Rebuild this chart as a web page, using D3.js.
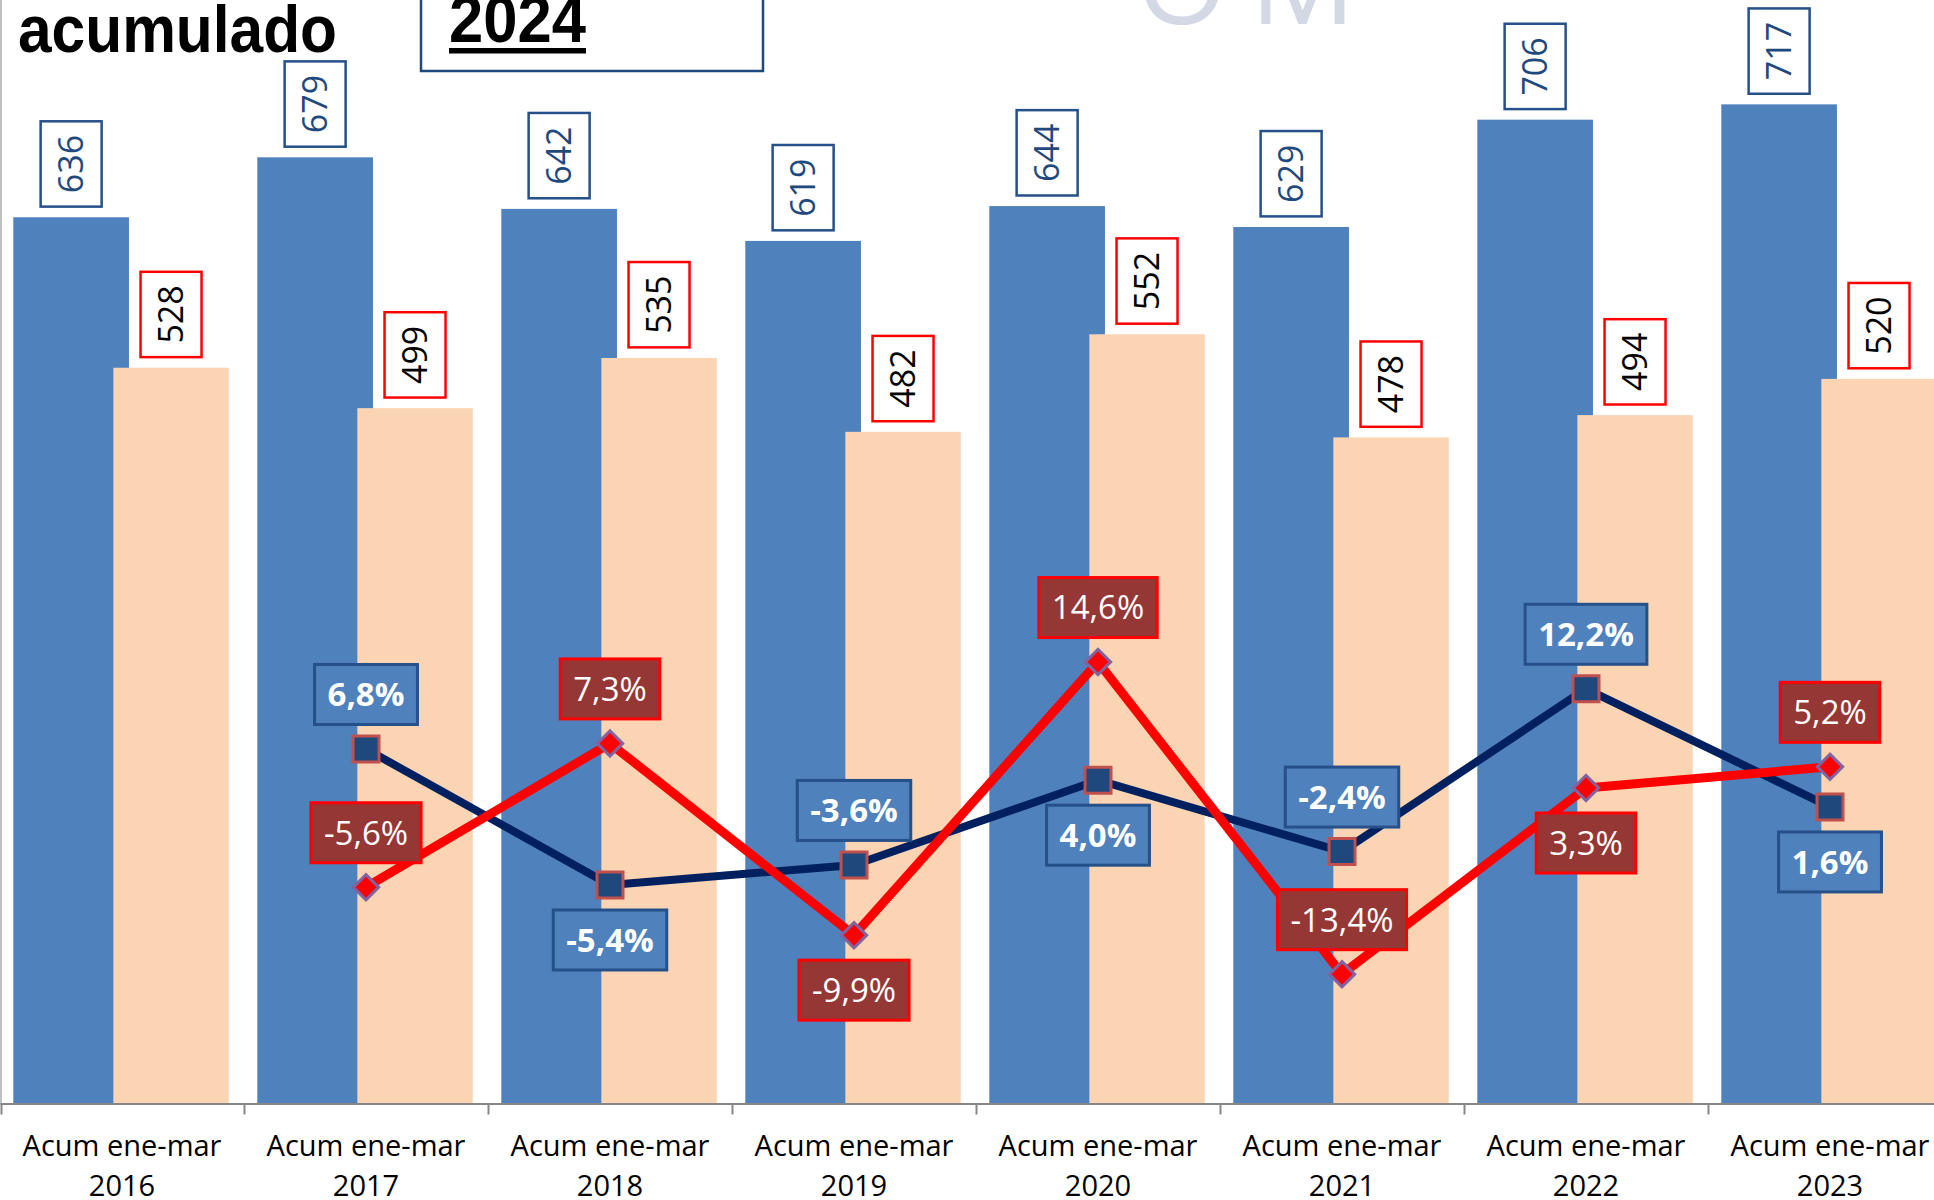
<!DOCTYPE html>
<html>
<head>
<meta charset="utf-8">
<script src="https://cdn.jsdelivr.net/npm/d3@7"></script>
<style>
  html, body { margin: 0; padding: 0; background: #fff; overflow: hidden; }
  svg { display: block; font-family: "Open Sans", "Noto Sans", sans-serif; }
</style>
</head>
<body>
<div id="chart"></div>
<script>
const categories = [
  "Acum ene-mar 2016", "Acum ene-mar 2017", "Acum ene-mar 2018", "Acum ene-mar 2019",
  "Acum ene-mar 2020", "Acum ene-mar 2021", "Acum ene-mar 2022", "Acum ene-mar 2023"
];
const blueValues = [636, 679, 642, 619, 644, 629, 706, 717];
const peachValues = [528, 499, 535, 482, 552, 478, 494, 520];
// year-on-year change (%) shown by the two lines
const blueChange = [null, 6.8, -5.4, -3.6, 4.0, -2.4, 12.2, 1.6];
const redChange = [null, -5.6, 7.3, -9.9, 14.6, -13.4, 3.3, 5.2];
// where each percentage label sits relative to its point
const blueLabelSide = [null, "up", "down", "up", "down", "up", "up", "down"];
const redLabelSide = [null, "up", "up", "down", "up", "up", "down", "up"];

const width = 1934;
const height = 1200;
const baseY = 1103.5;
const topY = baseY - 1114.8;

const svg = d3.select("#chart")
  .append("svg")
  .attr("width", width)
  .attr("height", height);

const x = d3.scaleBand().domain(categories).range([0, 1952]);
const bw = x.bandwidth();
const y = d3.scaleLinear().domain([0, 800]).range([baseY, topY]);
const yPct = d3.scaleLinear().domain([-25, 75]).range([baseY, topY]);

const fmtPct = v => v.toFixed(1).replace(".", ",") + "%";

// watermark
svg.append("text")
  .attr("x", 1136)
  .attr("y", 24)
  .attr("font-size", 118)
  .attr("letter-spacing", 22)
  .attr("fill", "#d3d8e5")
  .text("OM");

// left border line
svg.append("line")
  .attr("x1", 1).attr("x2", 1)
  .attr("y1", 0).attr("y2", baseY)
  .attr("stroke", "#c0c0c0")
  .attr("stroke-width", 2);

// bars
const bars = svg.append("g");
bars.selectAll(".blue")
  .data(blueValues)
  .enter()
  .append("rect")
  .attr("class", "blue")
  .attr("x", (d, i) => x(categories[i]) + bw * 0.0545)
  .attr("width", bw * 0.474)
  .attr("y", d => y(d))
  .attr("height", d => baseY - y(d))
  .attr("fill", "#4f81bd");

bars.selectAll(".peach")
  .data(peachValues)
  .enter()
  .append("rect")
  .attr("class", "peach")
  .attr("x", (d, i) => x(categories[i]) + bw * 0.4645)
  .attr("width", bw * 0.473)
  .attr("y", d => y(d))
  .attr("height", d => baseY - y(d))
  .attr("fill", "#fbd4b4");

// rotated value labels above the bars
function barLabels(values, offset, stroke, color) {
  const g = svg.append("g").selectAll("g")
    .data(values)
    .enter()
    .append("g");
  g.each(function(d, i) {
    const cx = x(categories[i]) + bw * offset;
    const sel = d3.select(this);
    const rect = sel.append("rect");
    const t = sel.append("text")
      .attr("text-anchor", "middle")
      .attr("dy", "0.36em")
      .attr("font-size", 34)
      .attr("fill", color)
      .text(d);
    const len = t.node().getComputedTextLength() + 27;
    rect.attr("x", -len / 2).attr("y", -30.5)
      .attr("width", len).attr("height", 61)
      .attr("fill", "#fff")
      .attr("stroke", stroke)
      .attr("stroke-width", 2.5);
    sel.attr("transform", `translate(${cx},${y(d) - 10.6 - len / 2}) rotate(-90)`);
  });
}
barLabels(blueValues, 0.0545 + 0.237, "#25508a", "#1f497d");
barLabels(peachValues, 0.4645 + 0.2365, "#ff0000", "#000");

// x axis
const axisG = svg.append("g")
  .attr("transform", `translate(0,${baseY})`);

axisG.call(d3.axisBottom(x).tickSize(0).tickSizeOuter(0));
axisG.select(".domain").attr("stroke", "#868686").attr("stroke-width", 2);
axisG.selectAll(".tick text")
  .attr("dy", null)
  .attr("y", 0)
  .attr("font-size", 29)
  .attr("font-family", "'Open Sans', sans-serif")
  .attr("fill", "#000")
  .each(function(d) {
    const txt = d3.select(this);
    const cut = d.lastIndexOf(" ");
    txt.text(null);
    txt.append("tspan").attr("x", 0).attr("y", 52).text(d.slice(0, cut));
    txt.append("tspan").attr("x", 0).attr("y", 92).text(d.slice(cut + 1));
  });

const xEdge = d3.scaleLinear().domain([0, categories.length]).range(x.range());
const edgeG = svg.append("g")
  .attr("transform", `translate(0,${baseY})`)
  .call(d3.axisBottom(xEdge).ticks(categories.length).tickSize(11).tickFormat(""));
edgeG.select(".domain").remove();
edgeG.selectAll(".tick line").attr("stroke", "#868686").attr("stroke-width", 2)
  .attr("transform", (d, i) => i === 0 ? "translate(1,0)" : null);

// change lines
const px = i => x(categories[i]) + bw / 2;
const line = d3.line()
  .defined(d => d != null)
  .x((d, i) => px(i))
  .y(d => yPct(d));

svg.append("path")
  .datum(blueChange)
  .attr("d", line)
  .attr("fill", "none")
  .attr("stroke", "#002060")
  .attr("stroke-width", 8)
  .attr("stroke-linejoin", "round");

svg.append("path")
  .datum(redChange)
  .attr("d", line)
  .attr("fill", "none")
  .attr("stroke", "#ff0000")
  .attr("stroke-width", 9)
  .attr("stroke-linejoin", "round");

const squares = blueChange.map((d, i) => ({ v: d, i })).filter(d => d.v != null);
const diamonds = redChange.map((d, i) => ({ v: d, i })).filter(d => d.v != null);

svg.append("g").selectAll("path")
  .data(squares)
  .enter()
  .append("path")
  .attr("d", d3.symbol().type(d3.symbolSquare).size(676))
  .attr("transform", d => `translate(${px(d.i)},${yPct(d.v)})`)
  .attr("fill", "#1f497d")
  .attr("stroke", "#c0504d")
  .attr("stroke-width", 3);

svg.append("g").selectAll("path")
  .data(diamonds)
  .enter()
  .append("path")
  .attr("d", d3.symbol().type(d3.symbolSquare).size(320))
  .attr("transform", d => `translate(${px(d.i)},${yPct(d.v)}) rotate(45)`)
  .attr("fill", "#ff0000")
  .attr("stroke", "#8064a2")
  .attr("stroke-width", 3);

// percentage labels
function pctLabels(points, sides, fill, stroke, weight) {
  svg.append("g").selectAll("g")
    .data(points)
    .enter()
    .append("g")
    .each(function(d) {
      const g = d3.select(this);
      const rect = g.append("rect");
      const t = g.append("text")
        .attr("text-anchor", "middle")
        .attr("dy", "0.36em")
        .attr("font-size", 33)
        .attr("font-weight", weight)
        .attr("fill", "#fff")
        .text(fmtPct(d.v));
      const w = t.node().getComputedTextLength() + 26;
      rect.attr("x", -w / 2).attr("y", -30)
        .attr("width", w).attr("height", 60)
        .attr("fill", fill)
        .attr("stroke", stroke)
        .attr("stroke-width", 3);
      const py = yPct(d.v);
      const cy = sides[d.i] === "up" ? py - 24.5 - 30 : py + 25 + 30;
      g.attr("transform", `translate(${px(d.i)},${cy})`);
    });
}
pctLabels(squares, blueLabelSide, "#4f81bd", "#25508a", 700);
pctLabels(diamonds, redLabelSide, "#953735", "#ff0000", 400);

// title pieces
svg.append("text")
  .attr("x", 18)
  .attr("y", 52)
  .attr("font-family", "'Liberation Sans', Arial, sans-serif")
  .attr("font-weight", 700)
  .attr("font-size", 66)
  .attr("textLength", 319)
  .attr("lengthAdjust", "spacingAndGlyphs")
  .text("acumulado");

svg.append("rect")
  .attr("x", 421).attr("y", -10)
  .attr("width", 342).attr("height", 81)
  .attr("fill", "#fff")
  .attr("stroke", "#1f497d")
  .attr("stroke-width", 2.5);

svg.append("text")
  .attr("x", 449)
  .attr("y", 42)
  .attr("font-family", "'Liberation Sans', Arial, sans-serif")
  .attr("font-weight", 700)
  .attr("font-size", 66)
  .attr("textLength", 137)
  .attr("lengthAdjust", "spacingAndGlyphs")
  .text("2024");

svg.append("rect")
  .attr("x", 449).attr("y", 48)
  .attr("width", 137).attr("height", 5.5)
  .attr("fill", "#000");
</script>
</body>
</html>
